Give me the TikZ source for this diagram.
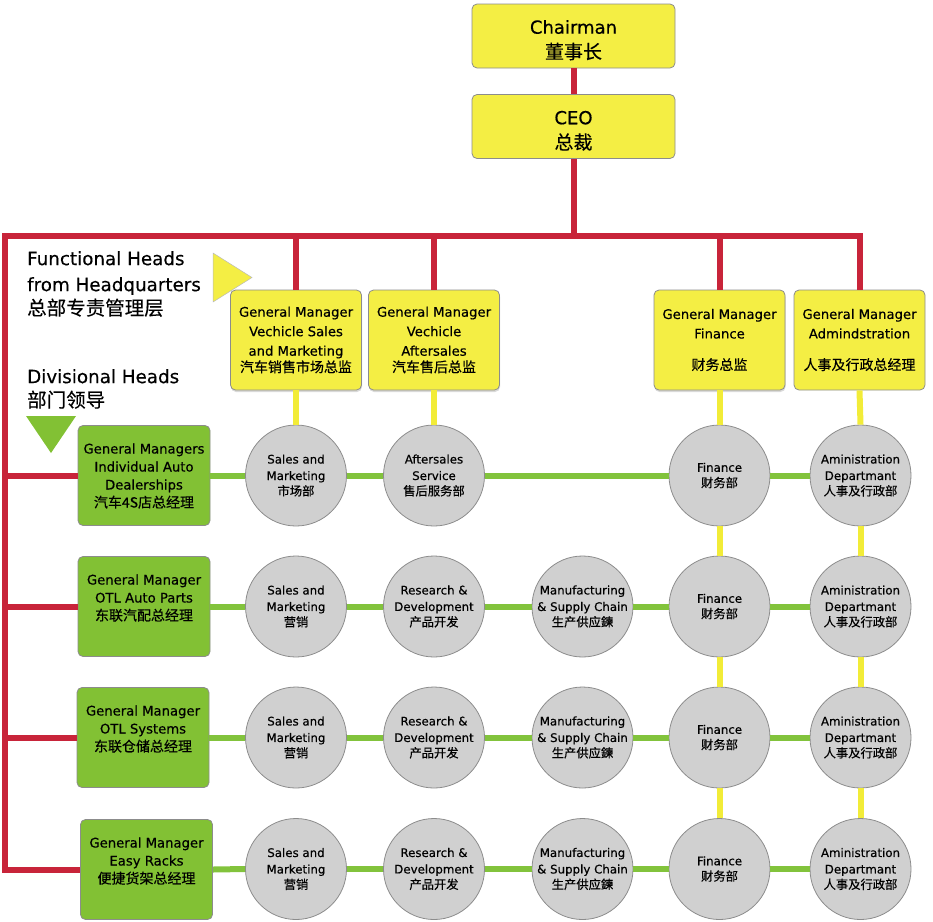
\documentclass[tikz,border=0pt]{standalone}
\usepackage{fontspec}
\setmainfont{DejaVu Sans}[UprightFeatures={FakeBold=0.4}]
\newfontfamily\cjkf{Noto Sans CJK SC}[UprightFeatures={FakeBold=0.3}]
\usetikzlibrary{shadows}
\definecolor{redc}{RGB}{200,36,58}
\definecolor{ybox}{RGB}{244,238,68}
\definecolor{ylinec}{RGB}{242,236,56}
\definecolor{gboxc}{RGB}{130,193,52}
\definecolor{glinec}{RGB}{130,195,60}
\definecolor{circc}{RGB}{208,208,208}
\definecolor{bordc}{RGB}{140,140,140}
\newcommand\zht[1]{{\cjkf\fontsize{19}{25}\selectfont #1}}
\newcommand\zhh[1]{{\cjkf\fontsize{19.5}{26}\selectfont #1}}
\newcommand\zhb[1]{{\cjkf\fontsize{14}{18}\selectfont #1}}
\newcommand\zhc[1]{{\cjkf\fontsize{12.3}{16}\selectfont #1}}
\newcommand\divtext[1]{\parbox[c][100pt][t]{132pt}{\centering\rule{0pt}{28pt}#1}}
\tikzset{
 box/.style={rounded corners=5pt, draw=bordc, line width=0.8pt, align=center, inner sep=0pt},
 topbox/.style={box, fill=ybox, minimum width=203pt, minimum height=64pt, font=\fontsize{18}{25}\selectfont},
 fnbox/.style={box, fill=ybox, minimum width=131pt, minimum height=100pt, font=\fontsize{13.2}{19.5}\selectfont},
 shad/.style={drop shadow={shadow xshift=0.5pt, shadow yshift=-2pt, opacity=0.3}},
 divbox/.style={box, fill=gboxc, minimum width=132pt, minimum height=100pt, font=\fontsize{13.2}{18}\selectfont},
 dept/.style={circle, draw=bordc, line width=0.8pt, fill=circc, minimum size=101pt, inner sep=0pt, align=center, font=\fontsize{11.8}{16.5}\selectfont},
 redln/.style={draw=redc, line width=6pt},
 ylwln/.style={draw=ylinec, line width=6pt},
 grnln/.style={draw=glinec, line width=6pt},
 lbl/.style={anchor=north west, inner sep=0pt, align=left, font=\fontsize{18.3}{26}\selectfont},
}
\begin{document}
\begin{tikzpicture}[x=1pt,y=-1pt]
\useasboundingbox (0,0) rectangle (933,921);
% top
\node[topbox] (chair) at (573.5,36) {\rule{0pt}{22pt}Chairman\\\zht{董事长}};
\node[topbox] (ceo) at (573.5,126.5) {\rule{0pt}{22pt}CEO\\\zht{总裁}};
% functional heads
\node[fnbox,shad] (f1) at (296,340) {General Manager\\Vechicle Sales\\and Marketing\\[-3pt]\zhb{汽车销售市场总监}};
\node[fnbox,shad] (f2) at (434,340) {General Manager\\Vechicle\\Aftersales\\[-3pt]\zhb{汽车售后总监}};
\node[fnbox,shad] (f3) at (719.5,340) {General Manager\\Finance\\[12pt]\zhb{财务总监}};
\node[fnbox] (f4) at (859.5,340) {General Manager\\Admindstration\\[12pt]\zhb{人事及行政总经理}};
% labels
\node[lbl] (lfh) at (27,251) {Functional Heads\\from Headquarters\\[-2pt]\zhh{总部专责管理层}};
\node[lbl] (ldh) at (27,369) {Divisional Heads\\[-2pt]\zhh{部门领导}};
\draw[fill=ybox, draw=bordc!60, line width=0.5pt] (213,253) -- (213,302) -- (252,277.5) -- cycle;
\fill[gboxc] (26,416) -- (76,416) -- (51,453) -- cycle;
% divisional boxes
\node[divbox] (g1) at (144,475.5) {\divtext{General Managers\\Individual Auto\\Dealerships\\\zhb{汽车4S店总经理}}};
\node[divbox] (g2) at (144,606.5) {\divtext{General Manager\\OTL Auto Parts\\\zhb{东联汽配总经理}}};
\node[divbox] (g3) at (143,737.5) {\divtext{General Manager\\OTL Systems\\\zhb{东联仓储总经理}}};
\node[divbox] (g4) at (146.5,869.5) {\divtext{General Manager\\Easy Racks\\\zhb{便捷货架总经理}}};
% row 1
\node[dept] (sm1) at (296,475.5) {Sales and\\Marketing\\[-1pt]\zhc{市场部}};
\node[dept] (as1) at (434,475.5) {Aftersales\\Service\\[-1pt]\zhc{售后服务部}};
\node[dept] (fin1) at (719.5,475.5) {Finance\\[-1pt]\zhc{财务部}};
\node[dept] (adm1) at (860.5,475.5) {Aministration\\Departmant\\[-1pt]\zhc{人事及行政部}};
% rows 2-4
\foreach \r/\y in {2/606.5,3/737.5,4/869} {
  \node[dept] (sm\r) at (296,\y) {Sales and\\Marketing\\[-1pt]\zhc{营销}};
  \node[dept] (rd\r) at (434,\y) {Research \&\\Development\\[-1pt]\zhc{产品开发}};
  \node[dept] (mf\r) at (582.5,\y) {Manufacturing\\\& Supply Chain\\[-1pt]\zhc{生产供应鍊}};
  \node[dept] (fin\r) at (719.5,\y) {Finance\\[-1pt]\zhc{财务部}};
  \node[dept] (adm\r) at (860.5,\y) {Aministration\\Departmant\\[-1pt]\zhc{人事及行政部}};
}
% red connectors
\coordinate (hl) at (4.5,236);
\draw[redln] (chair) -- (ceo);
\draw[redln] (ceo.south) -- (ceo.south |- hl);
\draw[redln] (f4.north) -- (f4.north |- hl) -- (hl) -- (hl |- g4.west) -- (g4.west);
\draw[redln] (f1.north) -- (f1.north |- hl);
\draw[redln] (f2.north) -- (f2.north |- hl);
\draw[redln] (f3.north) -- (f3.north |- hl);
\draw[redln] (hl |- g1.west) -- (g1.west);
\draw[redln] (hl |- g2.west) -- (g2.west);
\draw[redln] (hl |- g3.west) -- (g3.west);
% yellow connectors
\draw[ylwln] (f1.south) -- (sm1.north);
\draw[ylwln] (f2.south) -- (as1.north);
\draw[ylwln] (f3.south) -- (fin1.north);
\draw[ylwln] (f4.south) -- (adm1.north);
\draw[ylwln] (fin1.south) -- (fin2.north);
\draw[ylwln] (fin2.south) -- (fin3.north);
\draw[ylwln] (fin3.south) -- (fin4.north);
\draw[ylwln] (adm1.south) -- (adm2.north);
\draw[ylwln] (adm2.south) -- (adm3.north);
\draw[ylwln] (adm3.south) -- (adm4.north);
% green connectors
\draw[grnln] (g1.east) -- (sm1.west);
\draw[grnln] (sm1.east) -- (as1.west);
\draw[grnln] (as1.east) -- (fin1.west);
\draw[grnln] (fin1.east) -- (adm1.west);
\foreach \r in {2,3,4} {
  \draw[grnln] (g\r.east) -- (sm\r.west);
  \draw[grnln] (sm\r.east) -- (rd\r.west);
  \draw[grnln] (rd\r.east) -- (mf\r.west);
  \draw[grnln] (mf\r.east) -- (fin\r.west);
  \draw[grnln] (fin\r.east) -- (adm\r.west);
}
\end{tikzpicture}
\end{document}
